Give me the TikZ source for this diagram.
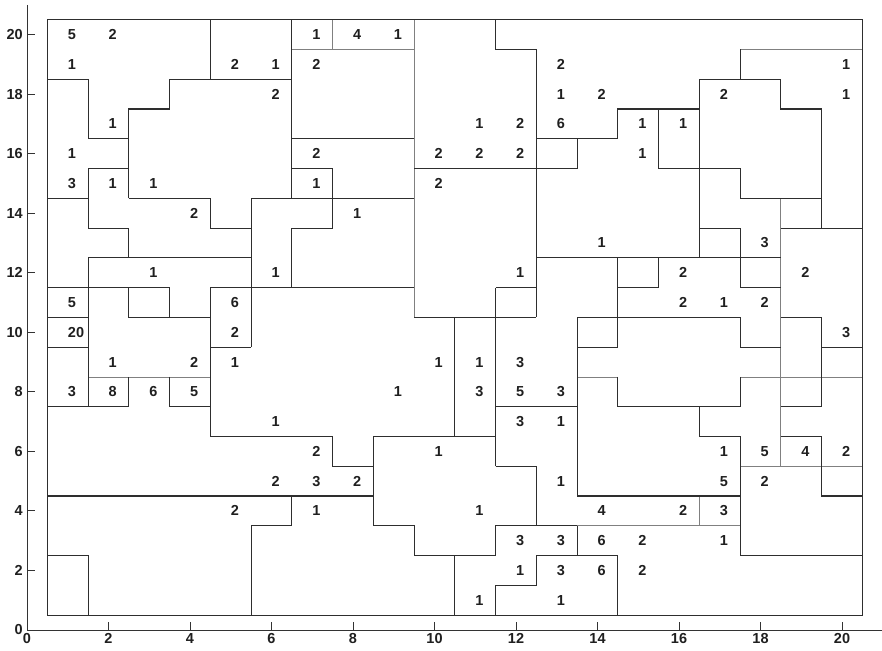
\documentclass[tikz,border=0pt]{standalone}
\usepackage{fontspec}
\setmainfont{Liberation Sans}
\begin{document}
\begin{tikzpicture}[x=40.75pt,y=29.77pt,
  dk/.style={draw=black!82, line width=1.1pt},
  lt/.style={draw=black!50, line width=0.8pt},
  ax/.style={draw=black!80, line width=0.9pt},
  num/.style={anchor=west, inner sep=0pt, font=\fontsize{14.5}{16}\selectfont\bfseries, text=black!88},
  tick/.style={inner sep=0pt, font=\fontsize{14.5}{16}\selectfont\bfseries, text=black!88}]
\useasboundingbox (-27pt,-20pt) rectangle (855pt,630pt);
% axes
\draw[ax] (0,21) -- (0,0) -- (21,0);
\foreach \v in {2,4,...,20} {
  \draw[ax] (\v,0) -- ++(0,8pt);
  \draw[ax] (0,\v) -- ++(8pt,0);
}
\foreach \v in {0,2,...,20} {
  \node[tick, anchor=north] (tx\v) at ([yshift=-3pt]\v,0) {\v};
  \node[tick, anchor=east] (ty\v) at ([xshift=-4pt]0,\v) {\v};
}
% light boundaries
\draw[lt] (1.5,8.5) -- (4.5,8.5);
\draw[lt] (6.5,19.5) -- (9.5,19.5);
\draw[lt] (7.5,19.5) -- (7.5,20.5);
\draw[lt] (9.5,10.5) -- (9.5,20.5);
\draw[lt] (17.5,19.5) -- (20.5,19.5);
\draw[lt] (18.5,5.5) -- (18.5,14.5);
\draw[lt] (13.5,8.5) -- (14.5,8.5);
\draw[lt] (17.5,8.5) -- (20.5,8.5);
\draw[lt] (17.5,5.5) -- (20.5,5.5);
\draw[lt] (13.5,3.5) -- (17.5,3.5);
\draw[lt] (16.5,3.5) -- (16.5,4.5);
% dark boundaries
\draw[dk] (0.5,0.5) rectangle (20.5,20.5);
\draw[dk] (4.5,18.5) -- (4.5,20.5);
\draw[dk] (0.5,18.5) -- (1.5,18.5) -- (1.5,16.5) -- (2.5,16.5) -- (2.5,17.5) -- (3.5,17.5) -- (3.5,18.5) -- (6.5,18.5);
\draw[dk] (2.5,14.5) -- (2.5,16.5);
\draw[dk] (6.5,14.5) -- (6.5,20.5);
\draw[dk] (1.5,15.5) -- (2.5,15.5);
\draw[dk] (1.5,15.5) -- (1.5,13.5) -- (2.5,13.5) -- (2.5,12.5);
\draw[dk] (0.5,14.5) -- (1.5,14.5);
\draw[dk] (2.5,14.5) -- (4.5,14.5) -- (4.5,13.5) -- (5.5,13.5);
\draw[dk] (5.5,9.5) -- (5.5,14.5) -- (9.5,14.5);
\draw[dk] (1.5,12.5) -- (5.5,12.5);
\draw[dk] (1.5,7.5) -- (1.5,12.5);
\draw[dk] (0.5,11.5) -- (3.5,11.5);
\draw[dk] (2.5,11.5) -- (2.5,10.5) -- (4.5,10.5);
\draw[dk] (3.5,11.5) -- (3.5,10.5);
\draw[dk] (4.5,6.5) -- (4.5,11.5) -- (9.5,11.5);
\draw[dk] (4.5,9.5) -- (5.5,9.5);
\draw[dk] (0.5,10.5) -- (1.5,10.5);
\draw[dk] (0.5,9.5) -- (1.5,9.5);
\draw[dk] (0.5,7.5) -- (2.5,7.5) -- (2.5,8.5);
\draw[dk] (3.5,8.5) -- (3.5,7.5) -- (4.5,7.5);
\draw[dk] (6.5,11.5) -- (6.5,13.5) -- (7.5,13.5) -- (7.5,15.5) -- (6.5,15.5);
\draw[dk] (6.5,16.5) -- (9.5,16.5);
\draw[dk] (9.5,10.5) -- (12.5,10.5);
\draw[dk] (11.5,20.5) -- (11.5,19.5) -- (12.5,19.5) -- (12.5,10.5);
\draw[dk] (9.5,15.5) -- (13.5,15.5) -- (13.5,16.5);
\draw[dk] (12.5,16.5) -- (14.5,16.5) -- (14.5,17.5) -- (16.5,17.5);
\draw[dk] (15.5,17.5) -- (15.5,15.5) -- (17.5,15.5) -- (17.5,14.5) -- (19.5,14.5);
\draw[dk] (16.5,12.5) -- (16.5,18.5) -- (18.5,18.5) -- (18.5,17.5) -- (19.5,17.5) -- (19.5,13.5);
\draw[dk] (17.5,18.5) -- (17.5,19.5);
\draw[dk] (11.5,11.5) -- (12.5,11.5);
\draw[dk] (11.5,5.5) -- (11.5,11.5);
\draw[dk] (12.5,12.5) -- (18.5,12.5);
\draw[dk] (16.5,13.5) -- (17.5,13.5) -- (17.5,11.5) -- (18.5,11.5);
\draw[dk] (18.5,13.5) -- (20.5,13.5);
\draw[dk] (14.5,9.5) -- (14.5,12.5);
\draw[dk] (14.5,11.5) -- (15.5,11.5) -- (15.5,12.5);
\draw[dk] (13.5,10.5) -- (17.5,10.5) -- (17.5,9.5) -- (18.5,9.5);
\draw[dk] (13.5,9.5) -- (14.5,9.5);
\draw[dk] (13.5,4.5) -- (13.5,10.5);
\draw[dk] (18.5,10.5) -- (19.5,10.5) -- (19.5,7.5) -- (18.5,7.5);
\draw[dk] (19.5,9.5) -- (20.5,9.5);
\draw[dk] (14.5,8.5) -- (14.5,7.5) -- (17.5,7.5) -- (17.5,8.5);
\draw[dk] (16.5,7.5) -- (16.5,6.5) -- (17.5,6.5) -- (17.5,2.5) -- (20.5,2.5);
\draw[dk] (18.5,6.5) -- (19.5,6.5) -- (19.5,4.5) -- (20.5,4.5);
\draw[dk] (10.5,6.5) -- (10.5,10.5);
\draw[dk] (11.5,7.5) -- (13.5,7.5);
\draw[dk] (4.5,6.5) -- (7.5,6.5) -- (7.5,5.5) -- (8.5,5.5);
\draw[dk] (8.5,3.5) -- (8.5,6.5) -- (11.5,6.5);
\draw[dk] (0.5,4.5) -- (8.5,4.5);
\draw[dk] (6.5,4.5) -- (6.5,3.5) -- (5.5,3.5) -- (5.5,0.5);
\draw[dk] (0.5,2.5) -- (1.5,2.5) -- (1.5,0.5);
\draw[dk] (8.5,3.5) -- (9.5,3.5) -- (9.5,2.5) -- (11.5,2.5) -- (11.5,3.5) -- (13.5,3.5);
\draw[dk] (11.5,5.5) -- (12.5,5.5) -- (12.5,3.5);
\draw[dk] (10.5,0.5) -- (10.5,2.5);
\draw[dk] (11.5,0.5) -- (11.5,1.5) -- (12.5,1.5) -- (12.5,2.5) -- (14.5,2.5) -- (14.5,0.5);
\draw[dk] (13.5,2.5) -- (13.5,3.5);
\draw[dk] (13.5,4.5) -- (17.5,4.5);
% numbers
\foreach \px/\py/\t [count=\k] in {
 1/20/5, 2/20/2, 7/20/1, 8/20/4, 9/20/1,
 1/19/1, 5/19/2, 6/19/1, 7/19/2, 13/19/2, 20/19/1,
 6/18/2, 13/18/1, 14/18/2, 17/18/2, 20/18/1,
 2/17/1, 11/17/1, 12/17/2, 13/17/6, 15/17/1, 16/17/1,
 1/16/1, 7/16/2, 10/16/2, 11/16/2, 12/16/2, 15/16/1,
 1/15/3, 2/15/1, 3/15/1, 7/15/1, 10/15/2,
 4/14/2, 8/14/1,
 14/13/1, 18/13/3,
 3/12/1, 6/12/1, 12/12/1, 16/12/2, 19/12/2,
 1/11/5, 5/11/6, 16/11/2, 17/11/1, 18/11/2,
 1/10/20, 5/10/2, 20/10/3,
 2/9/1, 4/9/2, 5/9/1, 10/9/1, 11/9/1, 12/9/3,
 1/8/3, 2/8/8, 3/8/6, 4/8/5, 9/8/1, 11/8/3, 12/8/5, 13/8/3,
 6/7/1, 12/7/3, 13/7/1,
 7/6/2, 10/6/1, 17/6/1, 18/6/5, 19/6/4, 20/6/2,
 6/5/2, 7/5/3, 8/5/2, 13/5/1, 17/5/5, 18/5/2,
 5/4/2, 7/4/1, 11/4/1, 14/4/4, 16/4/2, 17/4/3,
 12/3/3, 13/3/3, 14/3/6, 15/3/2, 17/3/1,
 12/2/1, 13/2/3, 14/2/6, 15/2/2,
 11/1/1, 13/1/1}
 \node[num] (n\k) at (\px,\py) {\t};
\end{tikzpicture}
\end{document}
